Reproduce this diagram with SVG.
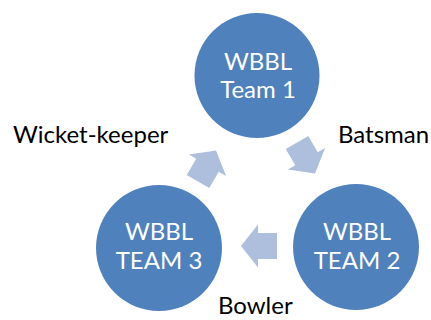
<svg xmlns="http://www.w3.org/2000/svg" width="431" height="320" viewBox="0 0 431 320">
<style>
.node circle{fill:#4F81BD}
.node text{fill:#FFFFFF;font-family:Lato,"Liberation Sans",sans-serif;font-size:24px;text-anchor:middle}
.arrow{fill:#ADBFDC}
.label{fill:#000000;font-family:Lato,"Liberation Sans",sans-serif;font-size:24px}
</style>
<defs>
<path id="arr" d="M-18,-13 L1,-13 L1,-21.5 L18,0 L1,21.5 L1,13 L-18,13 Z"/>
</defs>
<rect width="431" height="320" fill="#FFFFFF"/>
<g id="connectors">
<use href="#arr" class="arrow" transform="translate(207,166) rotate(-60)"/>
<use href="#arr" class="arrow" transform="translate(306,158) rotate(60)"/>
<use href="#arr" class="arrow" transform="translate(259,246) rotate(180)"/>
</g>
<g id="team1" class="node">
<circle cx="257" cy="75.5" r="62.5"/>
<text x="258" y="70">WBBL</text>
<text x="258" y="98">Team 1</text>
</g>
<g id="team2" class="node">
<circle cx="356" cy="247" r="63"/>
<text x="357" y="240">WBBL</text>
<text x="357" y="269">TEAM 2</text>
</g>
<g id="team3" class="node">
<circle cx="159" cy="248" r="63"/>
<text x="159" y="240">WBBL</text>
<text x="159" y="269">TEAM 3</text>
</g>
<g id="labels">
<text class="label" x="13" y="143">Wicket-keeper</text>
<text class="label" x="338" y="143">Batsman</text>
<text class="label" x="218" y="314">Bowler</text>
</g>
</svg>
